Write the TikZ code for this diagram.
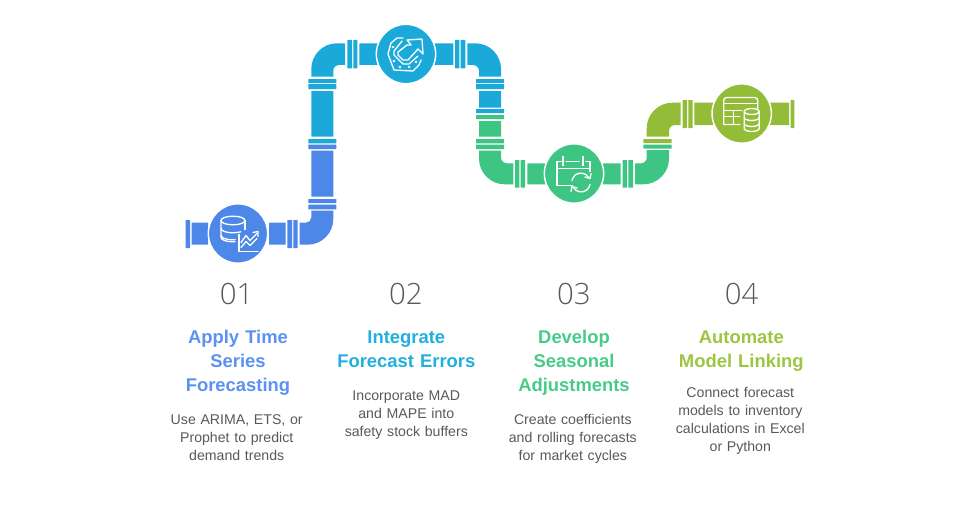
\documentclass[tikz,border=0pt]{standalone}
\usepackage{fontspec}
\setmainfont[WordSpace=0.85]{Liberation Sans}
\newfontfamily\numfont{Open Sans Light}
\usetikzlibrary{calc}
\definecolor{cblue}{HTML}{4D87E8}
\definecolor{ccyan}{HTML}{1BA9D9}
\definecolor{cgreen}{HTML}{3EC483}
\definecolor{colive}{HTML}{93BC39}
\definecolor{tblue}{HTML}{5B92F2}
\definecolor{tcyan}{HTML}{22AEDF}
\definecolor{tgreen}{HTML}{46CC88}
\definecolor{tolive}{HTML}{9CC63F}
\definecolor{tgrey}{HTML}{565B59}
\tikzset{
  hub/.style={circle,draw=white,line width=1.1pt,minimum size=44.5pt,inner sep=0pt},
  icon/.style={draw=white,line width=1pt,fill=none,line cap=round,line join=round},
  numtxt/.style={font=\fontsize{22}{24}\numfont,text=tgrey,align=center},
  headtxt/.style={font=\fontsize{13.8}{18}\selectfont\bfseries,align=center,text width=130pt,anchor=north,execute at begin node={\rule{0pt}{13pt}}},
  bodytxt/.style={font=\fontsize{10.6}{13.5}\selectfont,text=tgrey,align=center,text width=130pt,anchor=north,execute at begin node={\rule{0pt}{10pt}}}
}
% \seg{colour}{x1}{y1}{x2}{y2}: filled pixel rectangle
\newcommand{\seg}[5]{\fill[#1,rounded corners=0.3pt] (#2,#3) rectangle (#4,#5);}
\begin{document}
\begin{tikzpicture}[x=0.75pt,y=-0.75pt]
\useasboundingbox (0,0) rectangle (980,517);
\fill[white] (0,0) rectangle (980,517);

% ---------- blue run ----------
\seg{cblue}{185.5}{220}{190}{248}
\seg{cblue}{191.5}{222.7}{208}{244.7}
\seg{cblue}{269}{222.7}{285.7}{244.7}
\seg{cblue}{287.3}{220}{292}{248}
\seg{cblue}{293.3}{220}{297.7}{248}
\fill[cblue] (299.7,222.7) -- (306,222.7) arc[start angle=90,end angle=0,radius=5.3] -- (311.3,210.7) -- (333.3,210.7) -- (333.3,219) arc[start angle=0,end angle=90,radius=25.7] -- (299.7,244.7) -- cycle;
\seg{cblue}{308.3}{204.7}{336.3}{209.3}
\seg{cblue}{308.3}{199}{336.3}{203}
\seg{cblue}{311.3}{150.7}{333.3}{196.7}
\seg{cblue}{308.3}{144.7}{336.3}{149}
% ---------- cyan run ----------
\seg{ccyan}{308.3}{139}{336.3}{143.3}
\seg{ccyan}{311.3}{91}{333.3}{136.7}
\seg{ccyan}{308.3}{84}{336.3}{89}
\seg{ccyan}{308.3}{79}{336.3}{83}
\fill[ccyan] (311.3,76.7) -- (311.3,69) arc[start angle=180,end angle=270,radius=25.7] -- (345,43.3) -- (345,65) -- (339,65) arc[start angle=270,end angle=180,radius=5.7] -- (333.3,76.7) -- cycle;
\seg{ccyan}{347.3}{40}{352}{68.3}
\seg{ccyan}{353.3}{40}{357.3}{68.3}
\seg{ccyan}{359.3}{43.3}{378}{65}
\seg{ccyan}{434}{43.3}{453.3}{65}
\seg{ccyan}{455}{40}{459.3}{68.3}
\seg{ccyan}{460.7}{40}{465.3}{68.3}
\fill[ccyan] (467.3,43.3) -- (475.3,43.3) arc[start angle=270,end angle=360,radius=25.7] -- (501,76.7) -- (479,76.7) -- (479,71) arc[start angle=0,end angle=-90,radius=6] -- (467.3,65) -- cycle;
\seg{ccyan}{476}{79}{504}{83}
\seg{ccyan}{476}{84}{504}{89}
\seg{ccyan}{479}{91}{501}{107.7}
\seg{ccyan}{476}{109}{504}{113}
% ---------- green run ----------
\seg{cgreen}{476}{115}{504}{119}
\seg{cgreen}{479}{121}{501}{136.7}
\seg{cgreen}{476}{139}{504}{143.3}
\seg{cgreen}{476}{144.7}{504}{149}
\fill[cgreen] (479,150.7) -- (501,150.7) -- (501,157.3) arc[start angle=180,end angle=90,radius=6] -- (513.3,163.3) -- (513.3,184.3) -- (504.7,184.3) arc[start angle=90,end angle=180,radius=25.7] -- cycle;
\seg{cgreen}{515}{160}{519.3}{187.7}
\seg{cgreen}{520.7}{160}{525}{187.7}
\seg{cgreen}{527.3}{163.3}{546}{184.3}
\seg{cgreen}{602}{163.3}{620.7}{184.3}
\seg{cgreen}{622.7}{160}{627}{187.7}
\seg{cgreen}{628.3}{160}{633}{187.7}
\fill[cgreen] (635,163.3) -- (641,163.3) arc[start angle=90,end angle=0,radius=5.7] -- (646.7,150) -- (669,150) -- (669,158.6) arc[start angle=0,end angle=90,radius=25.7] -- (635,184.3) -- cycle;
\seg{cgreen}{643.3}{144.7}{671.7}{148.7}
% ---------- olive run ----------
\seg{colive}{643.3}{139}{671.7}{143}
\fill[colive] (646.7,136.7) -- (646.7,128.4) arc[start angle=180,end angle=270,radius=25.7] -- (680.7,102.7) -- (680.7,125) -- (675,125) arc[start angle=270,end angle=180,radius=6] -- (669,136.7) -- cycle;
\seg{colive}{682.7}{100}{687}{128}
\seg{colive}{688.3}{100}{692.7}{128}
\seg{colive}{694.3}{102.7}{713}{125}
\seg{colive}{770}{102.7}{789}{125}
\seg{colive}{790.7}{100}{794.3}{128}

% ---------- hubs ----------
\node[hub,fill=cblue]  (h1) at (238,233.5) {};
\node[hub,fill=ccyan]  (h2) at (406,54) {};
\node[hub,fill=cgreen] (h3) at (574,173.5) {};
\node[hub,fill=colive] (h4) at (741.7,113.5) {};

% icon 1: database with chart (angles are in pixel axes: 90 = down)
\begin{scope}[shift={(h1)}]
  \draw[icon] (-5,-13) ellipse[x radius=12,y radius=4.3];
  \draw[icon] (-17,-13) -- (-17,4) arc[start angle=180,end angle=90,x radius=12,y radius=4.3] -- (-3,8.3);
  \draw[icon] (7,-13) -- (7,-4);
  \draw[icon] (-17,-5) arc[start angle=180,end angle=50,x radius=12,y radius=4.3];
  \draw[icon] (-17,2) arc[start angle=180,end angle=80,x radius=12,y radius=4.3];
  \draw[icon] (1,1) -- (1,18) -- (20,18);
  \draw[icon] (3,14) -- (8,8) -- (12,12) -- (19,5);
  \draw[icon] (3,9) -- (8,2) -- (12,7) -- (19,0);
  \draw[icon] (15,-1) -- (20,-2) -- (20,3);
\end{scope}
% icon 2: arrow on tag
\begin{scope}[shift={(h2)}]
  \draw[icon] (-3,-16) -- (-9,-16) -- (-15,-11) -- (-18,0) -- (-12,16) -- (7,17) -- (13,11) -- (15,6);
  \draw[icon] (1,-14) -- (16,-15) -- (17,0) -- (12,-5) -- (2,6) -- (-3,6) -- (-8,1) -- (-8,-2) -- (1,-9) -- (5,-9) -- cycle;
  \draw[icon] (-4,-13) -- (-12,-3) -- (-12,1) -- (-3,10) -- (3,10) -- (12,2);
  \fill[white] (-13,-7) circle (1.3) (-12,7) circle (1.3) (-6,13) circle (1.3) (3,13) circle (1.3) (10,8) circle (1.3);
\end{scope}
% icon 3: calendar with refresh
\begin{scope}[shift={(h3)}]
  \draw[icon] (-2,12) -- (-17,12) -- (-17,-12) -- (-13,-12);
  \draw[icon] (-8,-12) -- (5,-12);
  \draw[icon] (12,-12) -- (16,-12) -- (16,-2);
  \draw[icon] (-17,-5) -- (16,-5);
  \draw[icon] (-11,-17) -- (-11,-8);
  \draw[icon] (9,-17) -- (9,-8);
  \draw[icon] (-2,7) arc[start angle=190,end angle=330,radius=9];
  \draw[icon] (17,0) -- (16,5) -- (11,3.5);
  \draw[icon] (16,11) arc[start angle=10,end angle=150,radius=9];
  \draw[icon] (-3,18) -- (-2,13) -- (3,14.5);
\end{scope}
% icon 4: table with database
\begin{scope}[shift={(h4)}]
  \draw[icon] (-2,11) -- (-18,11) -- (-18,-13) arc[start angle=180,end angle=270,radius=3] -- (13,-16) arc[start angle=270,end angle=360,radius=3] -- (16,-5);
  \draw[icon] (-18,-10) -- (16,-10);
  \draw[icon] (-18,-3) -- (0,-3);
  \draw[icon] (-18,3) -- (-2,3);
  \draw[icon] (-8,-3) -- (-8,11);
  \draw[icon] (10,-2) ellipse[x radius=7.5,y radius=3];
  \draw[icon] (2.5,-2) -- (2.5,15) arc[start angle=180,end angle=0,x radius=7.5,y radius=3] -- (17.5,-2);
  \draw[icon] (2.5,4) arc[start angle=180,end angle=0,x radius=7.5,y radius=3];
  \draw[icon] (2.5,10) arc[start angle=180,end angle=0,x radius=7.5,y radius=3];
\end{scope}

% ---------- text ----------
\node[numtxt] (n1) at (236.7,294) {01};
\node[numtxt] (n2) at (405.8,294) {02};
\node[numtxt] (n3) at (573.8,294) {03};
\node[numtxt] (n4) at (741.7,294) {04};
\node[headtxt,text=tblue]  (t1) at (238,321.7) {Apply Time\\Series\\Forecasting};
\node[headtxt,text=tcyan]  (t2) at (406.3,321.7) {Integrate\\Forecast Errors};
\node[headtxt,text=tgreen] (t3) at (574,321.7) {Develop\\Seasonal\\Adjustments};
\node[headtxt,text=tolive] (t4) at (741.3,321.7) {Automate\\Model Linking};
\node[bodytxt] (b1) at (236.7,406.2) {Use ARIMA, ETS, or\\Prophet to predict\\demand trends};
\node[bodytxt] (b2) at (406.3,382.5) {Incorporate MAD\\and MAPE into\\safety stock buffers};
\node[bodytxt] (b3) at (572.8,406.2) {Create coefficients\\and rolling forecasts\\for market cycles};
\node[bodytxt] (b4) at (740.3,379.5) {Connect forecast\\models to inventory\\calculations in Excel\\or Python};
\end{tikzpicture}
\end{document}
